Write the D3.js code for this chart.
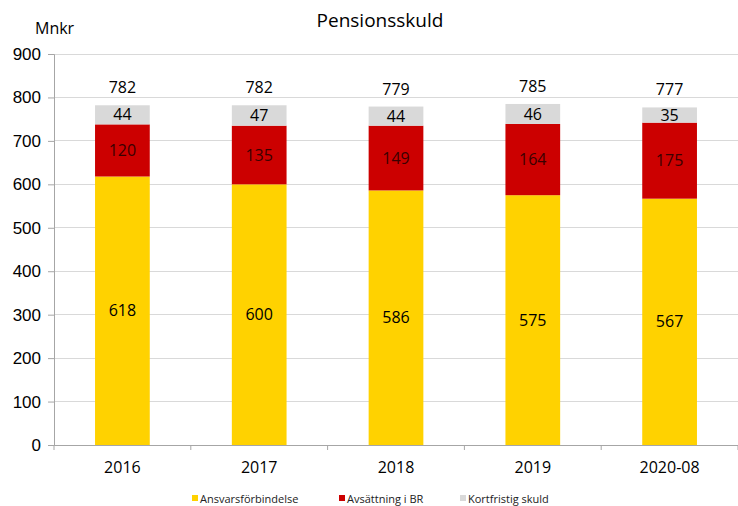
<!DOCTYPE html>
<html><head><meta charset="utf-8">
<script src="https://cdn.jsdelivr.net/npm/d3@7"></script>
<style>body{margin:0;background:#fff}svg{display:block;font-family:"Open Sans","Liberation Sans",sans-serif}</style>
</head><body><svg id="c" width="738" height="506"></svg>
<script>
const categories = ["2016","2017","2018","2019","2020-08"];
const ansvar = [618,600,586,575,567];
const avsattning = [120,135,149,164,175];
const kortfristig = [44,47,44,46,35];
const totals = [782,782,779,785,777];
const seriesNames = ["Ansvarsförbindelse","Avsättning i BR","Kortfristig skuld"];
const colors = ["#FFD200","#CC0000","#D9D9D9"];
const yTicks = [0,100,200,300,400,500,600,700,800,900];

const svg = d3.select("#c");
const m = {l:54, r:0, t:54, b:61};
const W = 738, H = 506;
const x = d3.scaleBand().domain(categories).range([m.l, W-m.r]).paddingInner(0.6).paddingOuter(0.3);
const y = d3.scaleLinear().domain([0,900]).range([H-m.b, m.t]);

const data = categories.map((c,i)=>({cat:c, a:ansvar[i], b:avsattning[i], k:kortfristig[i], t:totals[i]}));
const stack = d3.stack().keys(["a","b","k"])(data);

// gridlines
svg.append("g").selectAll("line").data(yTicks.slice(1)).join("line")
  .attr("x1", m.l).attr("x2", W).attr("y1", d=>y(d)).attr("y2", d=>y(d))
  .attr("stroke","#d9d9d9").attr("stroke-width",1).attr("shape-rendering","crispEdges");

// y axis
const ya = svg.append("g").attr("transform",`translate(${m.l},0)`).call(d3.axisLeft(y).tickValues(yTicks).tickSize(6).tickPadding(7));
ya.select(".domain").attr("stroke","#a6a6a6");
ya.selectAll(".tick line").attr("stroke","#a6a6a6");
ya.selectAll("text").attr("font-size",17).attr("fill","#000");

// bars
svg.append("g").selectAll("g").data(stack).join("g").attr("fill",(d,i)=>colors[i])
  .selectAll("rect").data(d=>d).join("rect")
  .attr("x", d=>x(d.data.cat)).attr("width", x.bandwidth())
  .attr("y", d=>y(d[1])).attr("height", d=>y(d[0])-y(d[1]));

// segment labels
stack.forEach((s,i)=>{
  svg.append("g").selectAll("text").data(s).join("text")
    .attr("x", d=>x(d.data.cat)+x.bandwidth()/2)
    .attr("y", d=>(y(d[0])+y(d[1]))/2)
    .attr("dy","0.35em").attr("text-anchor","middle").attr("font-size",16)
    .attr("fill", i===1 ? "#3a0000" : "#000")
    .text(d=>d[1]-d[0]);
});
// totals
svg.append("g").selectAll("text").data(data).join("text")
  .attr("x", d=>x(d.cat)+x.bandwidth()/2).attr("y", d=>y(d.t)-12)
  .attr("text-anchor","middle").attr("font-size",16).attr("fill","#000").text(d=>d.t);

// x axis
const xa = svg.append("g").attr("transform",`translate(0,${H-m.b})`);
xa.append("line").attr("x1",m.l).attr("x2",W).attr("stroke","#a6a6a6").attr("shape-rendering","crispEdges");
const bounds = d3.range(categories.length+1).map(i=>m.l + i*(W-m.l)/categories.length);
xa.selectAll("line.t").data(bounds).join("line").attr("class","t")
  .attr("x1",d=>d).attr("x2",d=>d).attr("y1",0).attr("y2",5).attr("stroke","#a6a6a6");
xa.selectAll("text").data(categories).join("text")
  .attr("x", d=>x(d)+x.bandwidth()/2).attr("y",28).attr("text-anchor","middle")
  .attr("font-size",16).attr("fill","#000").text(d=>d);

// title & unit
svg.append("text").attr("x",380).attr("y",27).attr("text-anchor","middle").attr("font-size",19).attr("fill","#000").text("Pensionsskuld");
svg.append("text").attr("x",35).attr("y",34).attr("font-size",16).attr("fill","#000").text("Mnkr");

// legend
const lx = [192,339,460];
const lg = svg.append("g").selectAll("g").data(seriesNames).join("g").attr("transform",(d,i)=>`translate(${lx[i]},503)`);
lg.append("rect").attr("x",0).attr("y",-8).attr("width",6).attr("height",6).attr("fill",(d,i)=>colors[i]);
lg.append("text").attr("x",8).attr("y",0).attr("font-size",11).attr("fill","#222").text(d=>d);
</script></body></html>
